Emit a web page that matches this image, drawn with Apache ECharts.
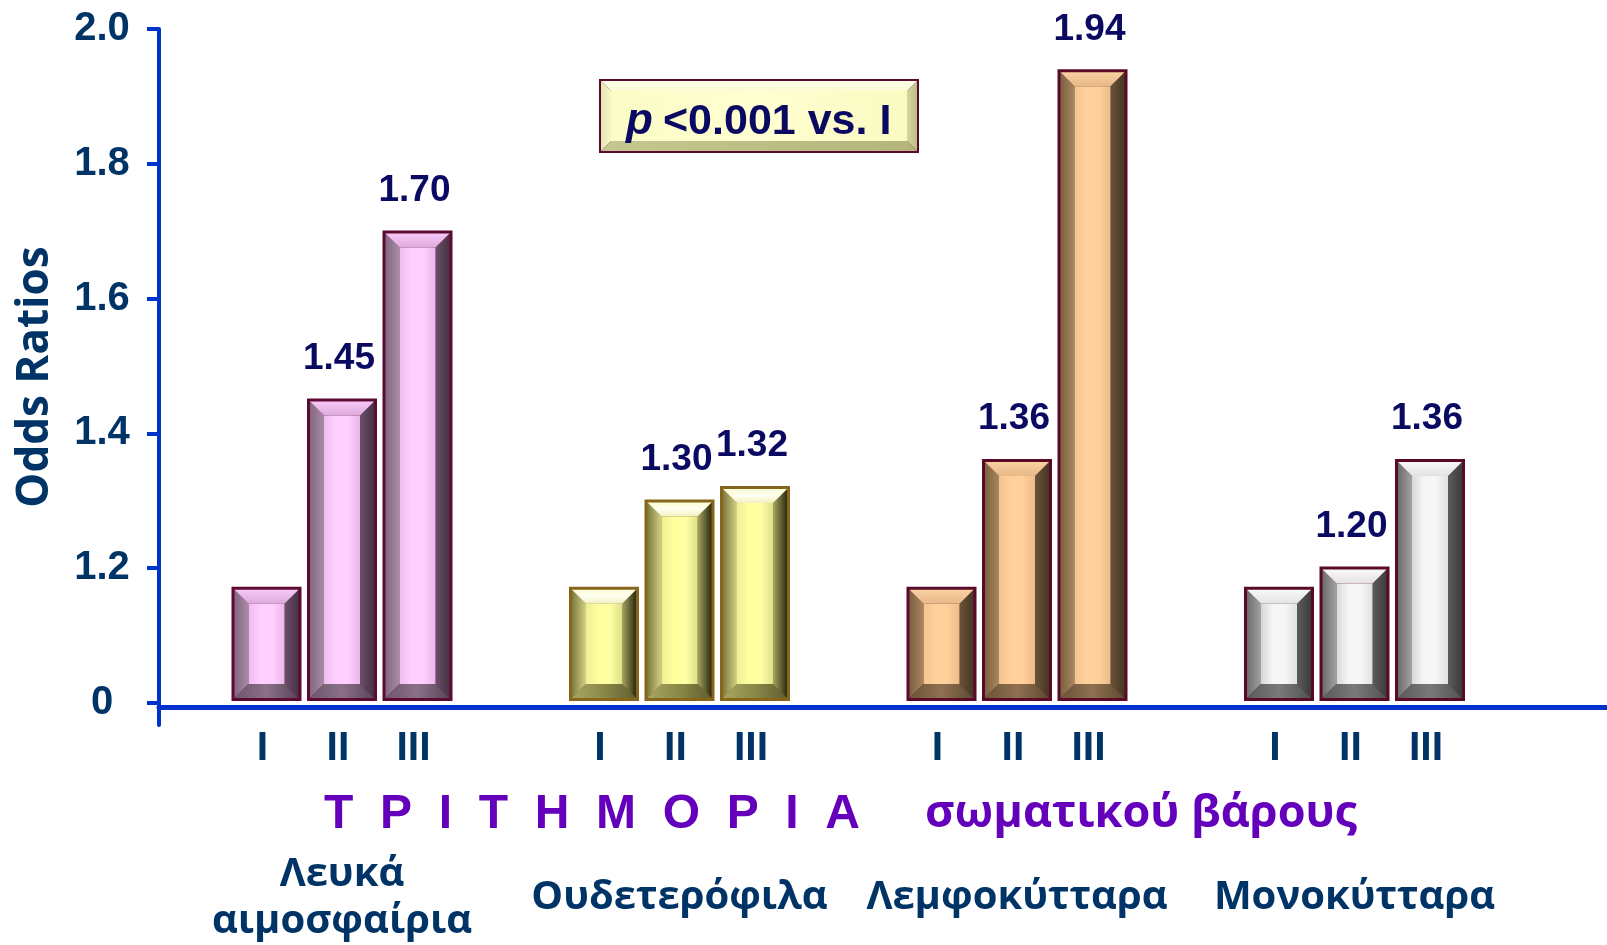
<!DOCTYPE html>
<html>
<head>
<meta charset="utf-8">
<script src="https://cdn.jsdelivr.net/npm/echarts@6/dist/echarts.min.js"></script>
<style>
  html, body { margin: 0; padding: 0; background: #ffffff; }
  #chart { width: 1607px; height: 945px; }
</style>
</head>
<body>
<div id="chart"></div>
<script>
// ---- data ----
const groups = ['Λευκά\nαιμοσφαίρια', 'Ουδετερόφιλα', 'Λεμφοκύτταρα', 'Μονοκύτταρα'];
const tertiles = ['I', 'II', 'III'];
const tertileI = [1.17, 1.17, 1.17, 1.17];
const tertileII = [1.45, 1.30, 1.36, 1.20];
const tertileIII = [1.70, 1.32, 1.94, 1.36];
const labelledTertiles = [false, true, true];
const yTicks = [1.0, 1.2, 1.4, 1.6, 1.8, 2.0];
const yTickLabels = ['0', '1.2', '1.4', '1.6', '1.8', '2.0'];
const baseline = 1.0;

// ---- styling ----
const NAVY = '#003366';
const LABEL_NAVY = '#0a0a62';
const PURPLE = '#6400bb';
const AXIS_BLUE = '#0033cc';
const BAR_W = 70;
const PITCH = 75.5;
const BEVEL = 14;
const BORDER = 3;

const palettes = [
  { border: '#5c0a32', left: ['#836880', '#a88ca6'], right: ['#6a5068', '#463244'],
    top: ['#f6c8f6', '#dcaadc'], bottom: ['#6e566c', '#8a7088', '#5a4458'],
    center: ['#f0bcf0', '#ffd0ff', '#ffd0ff', '#eab6ea'] },
  { border: '#86661a', left: ['#7e7a40', '#d4d286'], right: ['#a8a662', '#2e2a10'],
    top: ['#fbfbd8', '#fffff0', '#f0f0c0'], bottom: ['#a8a660', '#8a8848', '#605e30'],
    center: ['#eeee94', '#ffff9e', '#ffffa4', '#e0e08a'] },
  { border: '#5a0a28', left: ['#7c6040', '#a88860'], right: ['#6a5438', '#463624'],
    top: ['#f8d0a0', '#e8b888'], bottom: ['#6a5438', '#907050', '#5e4a32'],
    center: ['#f4c48e', '#ffd09c', '#ffd09c', '#ecbc88'] },
  { border: '#5a0a28', left: ['#6c6c6c', '#a2a2a2'], right: ['#5c5c5c', '#3c3c3c'],
    top: ['#f8f8f8', '#e2e2e2'], bottom: ['#5a5a5a', '#7a7a7a', '#525252'],
    center: ['#d8d8d8', '#f6f6f6', '#f6f6f6', '#e0e0e0'] }
];
const boxPalette = {
  border: '#5a0a30', left: ['#e6e6b0', '#f6f6c8'], right: ['#d6d6a0', '#bcbc84'],
  top: ['#ffffe6', '#fbfbd4'], bottom: ['#c6c690', '#b4b47c'],
  center: ['#fcfcc6', '#ffffd2', '#fafac0']
};

function hgrad(colors) {
  return new echarts.graphic.LinearGradient(0, 0, 1, 0,
    colors.map((c, i) => ({ offset: i / (colors.length - 1), color: c })));
}
function vgrad(colors) {
  return new echarts.graphic.LinearGradient(0, 0, 0, 1,
    colors.map((c, i) => ({ offset: i / (colors.length - 1), color: c })));
}

// A bevelled block: dark frame, four sloped edges and a lit face
function bevelBlock(x, y, w, h, p, bevel, bw) {
  const L = x + bw, R = x + w - bw, T = y + bw, B = y + h - bw;
  const b = Math.max(0, Math.min(bevel, (B - T) / 2, (R - L) / 2));
  return [
    { type: 'rect', shape: { x: x, y: y, width: w, height: h }, style: { fill: p.border } },
    { type: 'polygon', shape: { points: [[L, T], [L + b, T + b], [L + b, B - b], [L, B]] }, style: { fill: hgrad(p.left) } },
    { type: 'polygon', shape: { points: [[R, T], [R - b, T + b], [R - b, B - b], [R, B]] }, style: { fill: hgrad(p.right) } },
    { type: 'polygon', shape: { points: [[L, T], [R, T], [R - b, T + b], [L + b, T + b]] }, style: { fill: vgrad(p.top) } },
    { type: 'polygon', shape: { points: [[L, B], [R, B], [R - b, B - b], [L + b, B - b]] }, style: { fill: hgrad(p.bottom) } },
    { type: 'rect', shape: { x: L + b, y: T + b, width: R - L - 2 * b, height: B - T - 2 * b }, style: { fill: hgrad(p.center) } }
  ];
}

// rows: [group index, tertile index, odds ratio]
const tertileValues = [tertileI, tertileII, tertileIII];
const barData = [];
groups.forEach((g, gi) => {
  tertileValues.forEach((vals, ti) => barData.push([gi, ti, vals[gi]]));
});

function renderBar(params, api) {
  const gi = api.value(0), ti = api.value(1), v = api.value(2);
  const top = api.coord([gi, v]);
  const base = api.coord([gi, baseline]);
  const cx = top[0] + (ti - 1) * PITCH;
  const children = bevelBlock(cx - BAR_W / 2, top[1], BAR_W, base[1] - top[1], palettes[gi], BEVEL, BORDER);
  if (labelledTertiles[ti]) {
    children.push({
      type: 'text',
      style: { x: cx - 3, y: top[1] - 40, text: v.toFixed(2), align: 'center', verticalAlign: 'middle',
               font: 'bold 37px "Liberation Sans", Arial, sans-serif', fill: LABEL_NAVY }
    });
  }
  children.push({
    type: 'text',
    style: { x: cx - 4, y: base[1] + 48, text: tertiles[ti], align: 'center', verticalAlign: 'middle',
             font: 'bold 41px "Liberation Sans", Arial, sans-serif', fill: NAVY }
  });
  return { type: 'group', children: children };
}

const chart = echarts.init(document.getElementById('chart'), null, { renderer: 'canvas' });

const option = {
  animation: false,
  backgroundColor: '#ffffff',
  grid: [
    // frame grid: carries the visible axes
    { left: 159, right: 0, top: 29, bottom: 220 },
    // plotting grid: carries the grouped bars
    { left: 173.25, width: 1350, top: 29, bottom: 242 }
  ],
  xAxis: [
    {
      gridIndex: 0, type: 'value', min: 0, max: 1, position: 'bottom', offset: -18,
      axisLine: { show: true, onZero: false, lineStyle: { color: AXIS_BLUE, width: 5 } },
      axisTick: { show: false }, axisLabel: { show: false }, splitLine: { show: false }
    },
    {
      gridIndex: 1, type: 'category', data: groups,
      axisLine: { show: false }, axisTick: { show: false }, splitLine: { show: false },
      axisLabel: {
        interval: 0, margin: 197, verticalAlign: 'middle', lineHeight: 47,
        fontFamily: '"Open Sans", "Noto Sans", sans-serif', fontWeight: 'bold', fontSize: 40, color: NAVY
      }
    }
  ],
  yAxis: [
    {
      gridIndex: 0, type: 'value', min: 0.96735, max: 2.0,
      name: 'Odds Ratios', nameLocation: 'middle', nameGap: 102,
      nameTextStyle: { fontFamily: '"Open Sans", "Noto Sans", sans-serif', fontWeight: 'bold', fontSize: 44, color: NAVY },
      axisLine: { show: true, lineStyle: { color: AXIS_BLUE, width: 4 } },
      axisTick: { show: true, length: 12, customValues: yTicks, lineStyle: { color: AXIS_BLUE, width: 4 } },
      axisLabel: {
        customValues: yTicks, align: 'center', margin: 57,
        formatter: (v) => yTickLabels[yTicks.findIndex(t => Math.abs(t - v) < 1e-6)],
        fontFamily: '"Liberation Sans", Arial, sans-serif', fontWeight: 'bold', fontSize: 40, color: NAVY
      },
      splitLine: { show: false }
    },
    {
      gridIndex: 1, type: 'value', min: baseline, max: 2.0, show: false, splitLine: { show: false }
    }
  ],
  series: [
    {
      type: 'custom',
      xAxisIndex: 1, yAxisIndex: 1,
      dimensions: ['group', 'tertile', 'odds'],
      encode: { x: 0, y: 2 },
      data: barData,
      renderItem: renderBar,
      z: 3
    }
  ],
  graphic: [
    {
      type: 'text', x: 592, y: 815,
      style: { text: 'Τ  Ρ  Ι  Τ  Η  Μ  Ο  Ρ  Ι  Α', align: 'center', verticalAlign: 'middle',
               font: 'bold 48px "Liberation Sans", Arial, sans-serif', fill: PURPLE }
    },
    {
      type: 'text', x: 1141, y: 814,
      style: { text: 'σωματικού βάρους', align: 'center', verticalAlign: 'middle',
               font: 'bold 45px "Open Sans", "Noto Sans", sans-serif', fill: PURPLE }
    },
    {
      type: 'group', x: 599, y: 79,
      children: bevelBlock(0, 0, 320, 74, boxPalette, 10, 2).concat([
        { type: 'text', style: { x: 27, y: 43, text: 'p', align: 'left', verticalAlign: 'middle',
            font: 'italic bold 44px "Liberation Sans", Arial, sans-serif', fill: LABEL_NAVY } },
        { type: 'text', style: { x: 64, y: 43, text: '<0.001 vs. I', align: 'left', verticalAlign: 'middle',
            font: 'bold 43px "Liberation Sans", Arial, sans-serif', fill: LABEL_NAVY } }
      ])
    }
  ]
};

chart.setOption(option);
</script>
</body>
</html>
